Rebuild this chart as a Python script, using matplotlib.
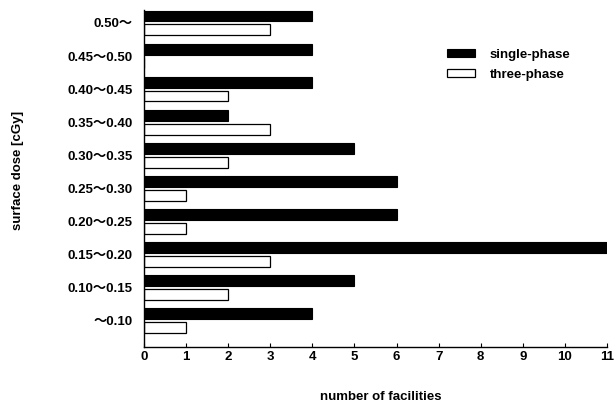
import numpy as np
import matplotlib
matplotlib.use("Agg")
import matplotlib.pyplot as plt

plt.rcParams['font.family'] = ['Liberation Sans', 'Noto Sans CJK JP', 'DejaVu Sans']
plt.rcParams['font.weight'] = 'bold'

# categories from bottom to top
categories = ["〜0.10", "0.10〜0.15", "0.15〜0.20", "0.20〜0.25", "0.25〜0.30",
              "0.30〜0.35", "0.35〜0.40", "0.40〜0.45", "0.45〜0.50", "0.50〜"]
single_phase = [4, 5, 11, 6, 6, 5, 2, 4, 4, 4]
three_phase = [1, 2, 3, 1, 1, 2, 3, 2, 0, 3]
x_ticks = list(range(0, 12))

fig = plt.figure(figsize=(6.14, 4.03), dpi=100)
ax = fig.add_axes([0.2345, 0.139, 0.7541, 0.836])

y = np.arange(len(categories))
h = 0.33
ax.barh(y + 0.21, single_phase, height=h, color="black", edgecolor="black",
        linewidth=0.8, label="single-phase")
ax.barh(y - 0.21, three_phase, height=h, color="white", edgecolor="black",
        linewidth=0.9, label="three-phase")

ax.set_xlim(0, 11)
ax.set_ylim(-0.80, 9.39)
ax.set_xticks(x_ticks)
ax.set_yticks(y)
ax.set_yticklabels(categories)

for s in ["top", "right"]:
    ax.spines[s].set_visible(False)
ax.spines["left"].set_linewidth(1.0)
ax.spines["bottom"].set_linewidth(1.0)
ax.tick_params(axis="x", direction="in", length=3, width=0.8, labelsize=9.5, pad=3)
ax.tick_params(axis="y", length=0, labelsize=9.5, pad=8)

fig.text(0.62, 0.016, "number of facilities", ha="center", va="center",
         fontsize=9.5, fontweight="bold")
fig.text(0.029, 0.578, "surface dose [cGy]", rotation=90, ha="center", va="center",
         fontsize=9.5, fontweight="bold")

ax.legend(loc="upper left", bbox_to_anchor=(0.718, 0.895), bbox_transform=fig.transFigure,
          frameon=False, fontsize=9.5, handlelength=2.1, handleheight=0.6,
          labelspacing=0.6, handletextpad=1.1, borderpad=0)

fig.savefig("out.png", dpi=100)
